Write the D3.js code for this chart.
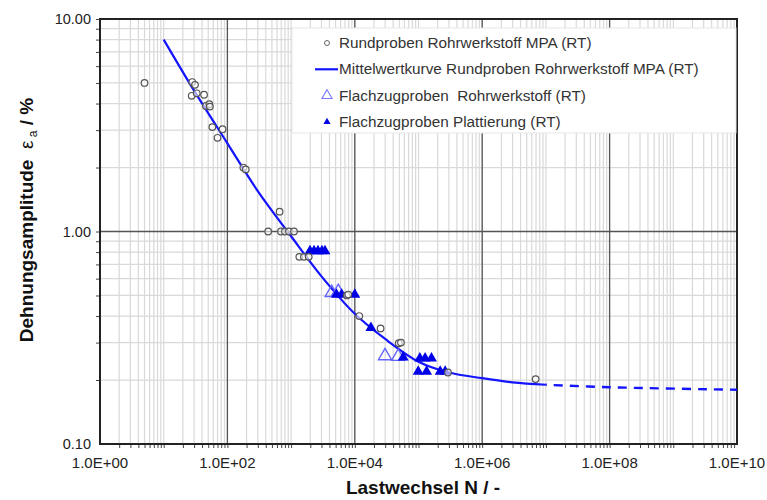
<!DOCTYPE html>
<html>
<head>
<meta charset="utf-8">
<script src="https://cdn.jsdelivr.net/npm/d3@7"></script>
<style>
  body { margin: 0; background: #fff; }
  svg { font-family: "Liberation Sans", Arial, sans-serif; }
</style>
</head>
<body>
<svg id="chart" width="767" height="500"></svg>
<script>
// Rundproben Rohrwerkstoff MPA (RT): [N, eps_a %]
let roundSamples = [
	[5, 5.0], [28, 5.05], [31, 4.9], [27.5, 4.35], [33, 4.47], [43, 4.4],
	[46, 3.9], [52, 3.97], [53, 3.87], [58, 3.1], [84, 3.03], [70, 2.76],
	[178, 2.0], [194, 1.96], [660, 1.24], [437, 1.0], [694, 1.0], [800, 1.0],
	[927, 1.0], [1110, 1.0], [1346, 0.76], [1590, 0.76], [1890, 0.76],
	[7460, 0.5], [7900, 0.505], [11750, 0.40], [25400, 0.35], [49000, 0.298],
	[53000, 0.30], [290000, 0.217], [6900000, 0.202]
];

// Mittelwertkurve
let meanCurve = [
	[10, 8.0], [30, 4.6], [100, 2.6], [300, 1.55], [1000, 0.95], [3000, 0.615],
	[10000, 0.41], [30000, 0.312], [100000, 0.244], [300000, 0.217],
	[1000000, 0.204], [3000000, 0.195], [10000000, 0.19]
];
let meanCurveExtrapolated = [[10000000, 0.19], [100000000, 0.185], [10000000000, 0.18]];

// Flachzugproben Rohrwerkstoff (RT)
let flatBase = [[4340, 0.51], [5500, 0.515], [29800, 0.257], [48000, 0.255]];

// Flachzugproben Plattierung (RT)
let flatClad = [
	[1980, 0.80], [2290, 0.80], [2640, 0.80], [3050, 0.80], [3400, 0.80],
	[5160, 0.5], [6200, 0.5], [10000, 0.5], [17900, 0.348], [57600, 0.253],
	[105000, 0.25], [127000, 0.25], [160000, 0.25],
	[99000, 0.217], [134000, 0.217], [219000, 0.217], [262000, 0.217]
];

let xTickValues = [1, 1e2, 1e4, 1e6, 1e8, 1e10];
let yTickValues = [0.1, 1, 10];

let legendItems = [
	{"name": "Rundproben Rohrwerkstoff MPA (RT)", "type": "circle"},
	{"name": "Mittelwertkurve Rundproben Rohrwerkstoff MPA (RT)", "type": "line"},
	{"name": "Flachzugproben  Rohrwerkstoff (RT)", "type": "open"},
	{"name": "Flachzugproben Plattierung (RT)", "type": "filled"}
];

let margin = {"left": 100, "top": 19, "right": 30, "bottom": 56};
let width = 767;
let height = 500;
let svg = d3.select("#chart");

let x = d3.scaleLog().domain([1, 1e10]).range([margin.left, width - margin.right]);
let y = d3.scaleLog().domain([0.1, 10]).range([height - margin.bottom, margin.top]);

// minor values 1..9 per decade
let minorX = [];
for (let e = 0; e < 10; e++){
	for (let k = 1; k < 10; k++){
		if (!(e === 0 && k === 1)) minorX.push(k * Math.pow(10, e));
	}
}
let minorY = [];
for (let e = -1; e < 1; e++){
	for (let k = 1; k < 10; k++){
		if (!(e === -1 && k === 1)) minorY.push(k * Math.pow(10, e));
	}
}

let grid = svg.append("g").attr("class", "grid");
grid.selectAll("line.vx")
	.data(minorX)
	.join("line")
	.attr("x1", d => x(d)).attr("x2", d => x(d))
	.attr("y1", y(10)).attr("y2", y(0.1))
	.attr("stroke", "#d9d9d9")
	.attr("stroke-width", 1.2);
grid.selectAll("line.hy")
	.data(minorY)
	.join("line")
	.attr("y1", d => y(d)).attr("y2", d => y(d))
	.attr("x1", x(1)).attr("x2", x(1e10))
	.attr("stroke", "#d9d9d9")
	.attr("stroke-width", 1.2);

// major lines
grid.selectAll("line.mx")
	.data([1e2, 1e4, 1e6, 1e8])
	.join("line")
	.attr("x1", d => x(d)).attr("x2", d => x(d))
	.attr("y1", y(10)).attr("y2", y(0.1))
	.attr("stroke", "#555")
	.attr("stroke-width", 1.3);
grid.append("line")
	.attr("x1", x(1)).attr("x2", x(1e10))
	.attr("y1", y(1)).attr("y2", y(1))
	.attr("stroke", "#555")
	.attr("stroke-width", 1.3);

// axes
let axisX = svg.append("g")
	.attr("transform", `translate(0,${y(0.1)})`)
	.call(d3.axisBottom(x).tickValues(minorX).tickSize(4).tickFormat(""))
	.call(g => g.select(".domain").remove())
	.call(g => g.selectAll(".tick line").attr("stroke", "#444"));

svg.append("g")
	.selectAll("text")
	.data(xTickValues)
	.join("text")
	.attr("x", d => x(d))
	.attr("y", y(0.1) + 24)
	.attr("text-anchor", "middle")
	.attr("font-size", 15)
	.attr("fill", "#222")
	.text(d => "1.0E+" + String(Math.round(Math.log10(d))).padStart(2, "0"));

let axisY = svg.append("g")
	.attr("transform", `translate(${x(1)},0)`)
	.call(d3.axisLeft(y).tickValues(minorY.concat([10])).tickSize(4).tickFormat(""))
	.call(g => g.select(".domain").remove())
	.call(g => g.selectAll(".tick line").attr("stroke", "#444"));

svg.append("g")
	.selectAll("text")
	.data(yTickValues)
	.join("text")
	.attr("x", x(1) - 9)
	.attr("y", d => y(d))
	.attr("dy", 5)
	.attr("text-anchor", "end")
	.attr("font-size", 14.5)
	.attr("fill", "#222")
	.text(d => d.toFixed(2));

// frame
svg.append("rect")
	.attr("x", x(1)).attr("y", y(10))
	.attr("width", x(1e10) - x(1))
	.attr("height", y(0.1) - y(10))
	.attr("fill", "none")
	.attr("stroke", "#222")
	.attr("stroke-width", 2);

// legend box
let legend = svg.append("g").attr("transform", "translate(292,28)");
legend.append("rect")
	.attr("x", 0).attr("y", 0)
	.attr("width", 444).attr("height", 105)
	.attr("fill", "#fff")
	.attr("stroke", "#e6e6e6");

// mean curve
const line = d3.line()
	.x(d => x(d[0]))
	.y(d => y(d[1]))
	.curve(d3.curveCatmullRom.alpha(0.5));

svg.append("path")
	.attr("d", line(meanCurve))
	.attr("fill", "none")
	.attr("stroke", "#1414ff")
	.attr("stroke-width", 2.2);
svg.append("path")
	.attr("d", line(meanCurveExtrapolated))
	.attr("fill", "none")
	.attr("stroke", "#1414ff")
	.attr("stroke-width", 2.4)
	.attr("stroke-dasharray", "9,7")
	.attr("stroke-dashoffset", -8);

let triangle = d3.symbol().type(d3.symbolTriangle);

// open triangles
svg.append("g").selectAll("path")
	.data(flatBase)
	.join("path")
	.attr("transform", d => `translate(${x(d[0])},${y(d[1]) - 1})`)
	.attr("d", triangle.size(75)())
	.attr("fill", "none")
	.attr("stroke", "#6464ff")
	.attr("stroke-width", 1.4);

// filled triangles
svg.append("g").selectAll("path")
	.data(flatClad)
	.join("path")
	.attr("transform", d => `translate(${x(d[0])},${y(d[1]) - 1})`)
	.attr("d", triangle.size(52)())
	.attr("fill", "#0000e6");

// round samples
svg.append("g").selectAll("circle")
	.data(roundSamples)
	.join("circle")
	.attr("cx", d => x(d[0]))
	.attr("cy", d => y(d[1]))
	.attr("r", 3.3)
	.attr("fill", "#fff")
	.attr("fill-opacity", 0.6)
	.attr("stroke", "#555")
	.attr("stroke-width", 1.2);

// legend items
let rows = legend.selectAll("g.item")
	.data(legendItems)
	.join("g")
	.attr("class", "item")
	.attr("transform", (d, i) => `translate(0,${15 + i * 26.3})`);

rows.append("text")
	.attr("x", 47)
	.attr("dy", 5)
	.attr("font-size", 15.3)
	.attr("fill", "#333")
	.style("white-space", "pre")
	.text(d => d.name);

rows.filter(d => d.type === "circle").append("circle")
	.attr("cx", 35).attr("r", 2.5)
	.attr("fill", "#fff").attr("stroke", "#666").attr("stroke-width", 1);
rows.filter(d => d.type === "line").append("line")
	.attr("x1", 23).attr("x2", 46)
	.attr("stroke", "#1414ff").attr("stroke-width", 2.2);
rows.filter(d => d.type === "open").append("path")
	.attr("transform", "translate(35,0)")
	.attr("d", triangle.size(45)())
	.attr("fill", "none").attr("stroke", "#7a7aff").attr("stroke-width", 1.1);
rows.filter(d => d.type === "filled").append("path")
	.attr("transform", "translate(35,0)")
	.attr("d", triangle.size(22)())
	.attr("fill", "#0000e6");

// titles
svg.append("text")
	.attr("x", 423)
	.attr("y", 494)
	.attr("text-anchor", "middle")
	.attr("font-size", 19)
	.attr("font-weight", "bold")
	.attr("fill", "#111")
	.text("Lastwechsel N / -");

let yTitle = svg.append("text")
	.attr("transform", "translate(33,220) rotate(-90)")
	.attr("text-anchor", "middle")
	.attr("font-size", 19)
	.attr("font-weight", "bold")
	.attr("fill", "#111")
	.style("white-space", "pre");
yTitle.append("tspan").text("Dehnungsamplitude  ");
yTitle.append("tspan").attr("font-weight", "normal").text("ε");
yTitle.append("tspan").attr("font-weight", "normal").attr("font-size", 12).attr("dy", 4).text(" a");
yTitle.append("tspan").attr("dy", -4).text(" / %");
</script>
</body>
</html>
